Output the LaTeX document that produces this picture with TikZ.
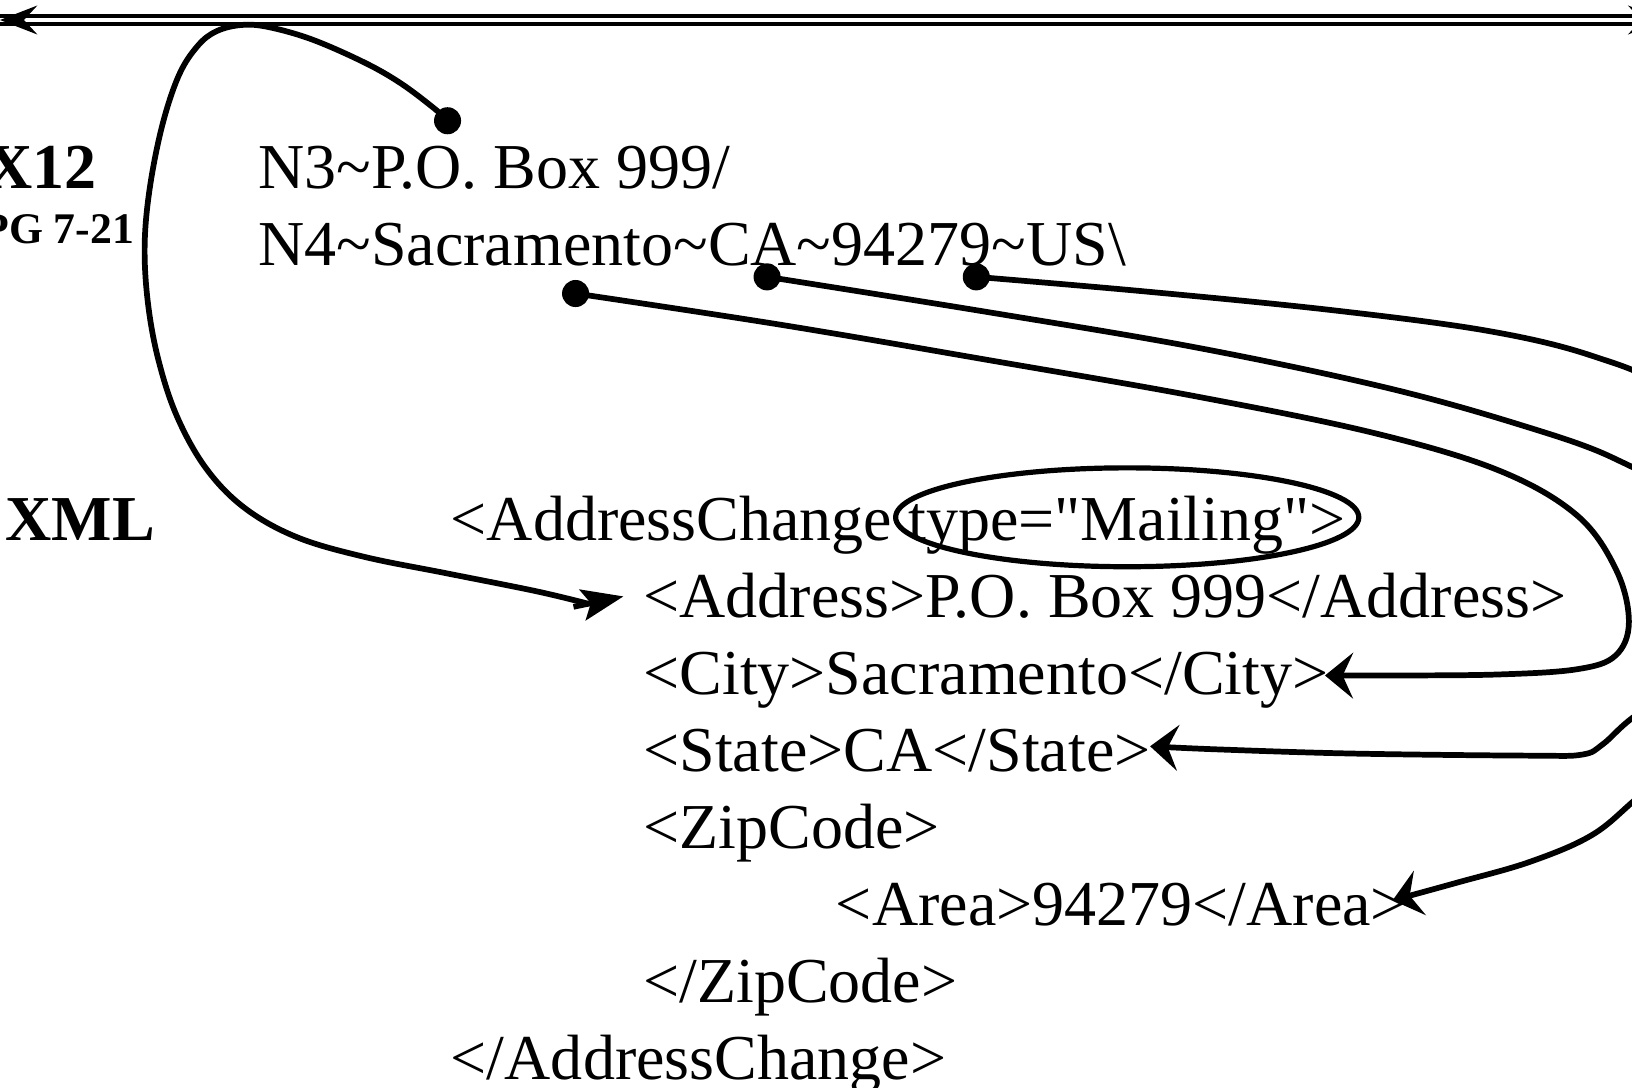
\documentclass[tikz,border=0pt]{standalone}
\usepackage{fontspec}
\setmainfont{Liberation Serif}
\usetikzlibrary{arrows.meta,shapes.geometric}
\begin{document}
\begin{tikzpicture}[x=1pt,y=-1pt,
  txt/.style={anchor=base west, inner sep=0pt, font=\fontsize{61.5}{74}\selectfont},
  lbl/.style={anchor=base east, inner sep=0pt, font=\fontsize{61.5}{74}\selectfont\bfseries},
  lblsmall/.style={anchor=base east, inner sep=0pt, font=\fontsize{42}{50}\selectfont\bfseries},
  dotnode/.style={circle, fill=black, inner sep=0pt, minimum size=26pt},
  conn/.style={line width=5.5pt, line cap=round, line join=round},
  tipconn/.style={conn, -{Stealth[length=27pt,width=44pt,inset=10pt]}},
  addrtip/.style={line width=5.5pt, -{Stealth[length=40pt,width=30pt,inset=8pt]}},
  rail/.style={line width=4pt},
  railhead/.style={fill=black}]
\useasboundingbox (0,0) rectangle (1568,1045);
\clip (0,0) rectangle (1568,1045);

% top double rail
\coordinate (topL) at (0,19.2);
\coordinate (topR) at (1600,19.2);
\draw[rail] ([yshift=3.7pt]topL) -- ([yshift=3.7pt]topR);
\draw[rail] ([yshift=-3.7pt]topL) -- ([yshift=-3.7pt]topR);
\fill[railhead] (topL) -- ++(36,-14) -- ++(-13,14) -- ++(13,14) -- cycle;
\fill[railhead] (topR) -- ++(-36,-14) -- ++(13,14) -- ++(-13,14) -- cycle;

% labels
\node[lbl] (x12) at (93,181) {X12};
\node[lblsmall] (pg) at (129,234) {PG 7-21};
\node[lbl, anchor=base west] (xml) at (5,519) {XML};

% X12 lines
\node[txt] (n3) at (248,181) {N3\textasciitilde P.O. Box 999/};
\node[txt] (n4) at (248,255) {N4\textasciitilde Sacramento\textasciitilde CA\textasciitilde 94279\textasciitilde US\textbackslash};

% XML lines
\node[txt] (l1) at (433,519) {<AddressChange type=\textquotedbl Mailing\textquotedbl>};
\node[txt] (l2) at (618,593) {<Address>P.O. Box 999</Address>};
\node[txt] (l3) at (618,667) {<City>Sacramento</City>};
\node[txt] (l4) at (618,741) {<State>CA</State>};
\node[txt] (l5) at (618,815) {<ZipCode>};
\node[txt] (l6) at (803,889) {<Area>94279</Area>};
\node[txt] (l7) at (618,963) {</ZipCode>};
\node[txt] (l8) at (433,1037) {</AddressChange>};

% ellipse around type="Mailing">
\node[draw, ellipse, line width=5pt, inner sep=0pt, minimum width=445pt, minimum height=95pt] (ring) at (1083,497) {};

% dots
\node[dotnode] (d1) at (430,116) {};
\node[dotnode] (d2) at (553,282) {};
\node[dotnode] (d3) at (737,266) {};
\node[dotnode] (d4) at (938,266) {};

% arrow targets
\coordinate (nAddr) at (565,580);
\coordinate (tAddr) at (599,573);
\coordinate (tCity) at (1273,649);
\coordinate (tState) at (1105,717);
\coordinate (tArea) at (1338,865);

% N3 -> Address
\draw[conn] plot[smooth, tension=0.6] coordinates {(d1) (417,104) (385,80) (350,60) (300,38) (258,26) (232,24) (208,30) (190,44) (172,72) (156,120) (144,180) (139,235) (142,290) (152,345) (170,400) (198,450) (235,488) (285,516) (350,535) (430,551) (515,568) (nAddr)};
\draw[addrtip] ([shift={(-14,3)}]nAddr) -- (tAddr);

% Sacramento -> City
\draw[tipconn] plot[smooth, tension=0.6] coordinates {(d2) (750,312) (950,346) (1150,381) (1320,416) (1440,452) (1515,495) (1553,548) (1565,598) (1552,630) (1515,643) (1440,648) (1340,649) (tCity)};

% CA -> State
\draw[tipconn] plot[smooth, tension=0.6] coordinates {(d3) (950,300) (1150,334) (1330,372) (1460,408) (1550,440) (1610,480) (1640,560) (1625,650) (1568,690) (1540,715) (1520,725) (1470,726) (1300,724) (1170,720) (tState)};

% 94279 -> Area
\draw[tipconn] plot[smooth, tension=0.6] coordinates {(d4) (1100,280) (1280,298) (1430,318) (1530,342) (1600,375) (1650,450) (1660,600) (1630,720) (1575,765) (1530,802) (1470,828) (1400,848) (tArea)};
\end{tikzpicture}
\end{document}
